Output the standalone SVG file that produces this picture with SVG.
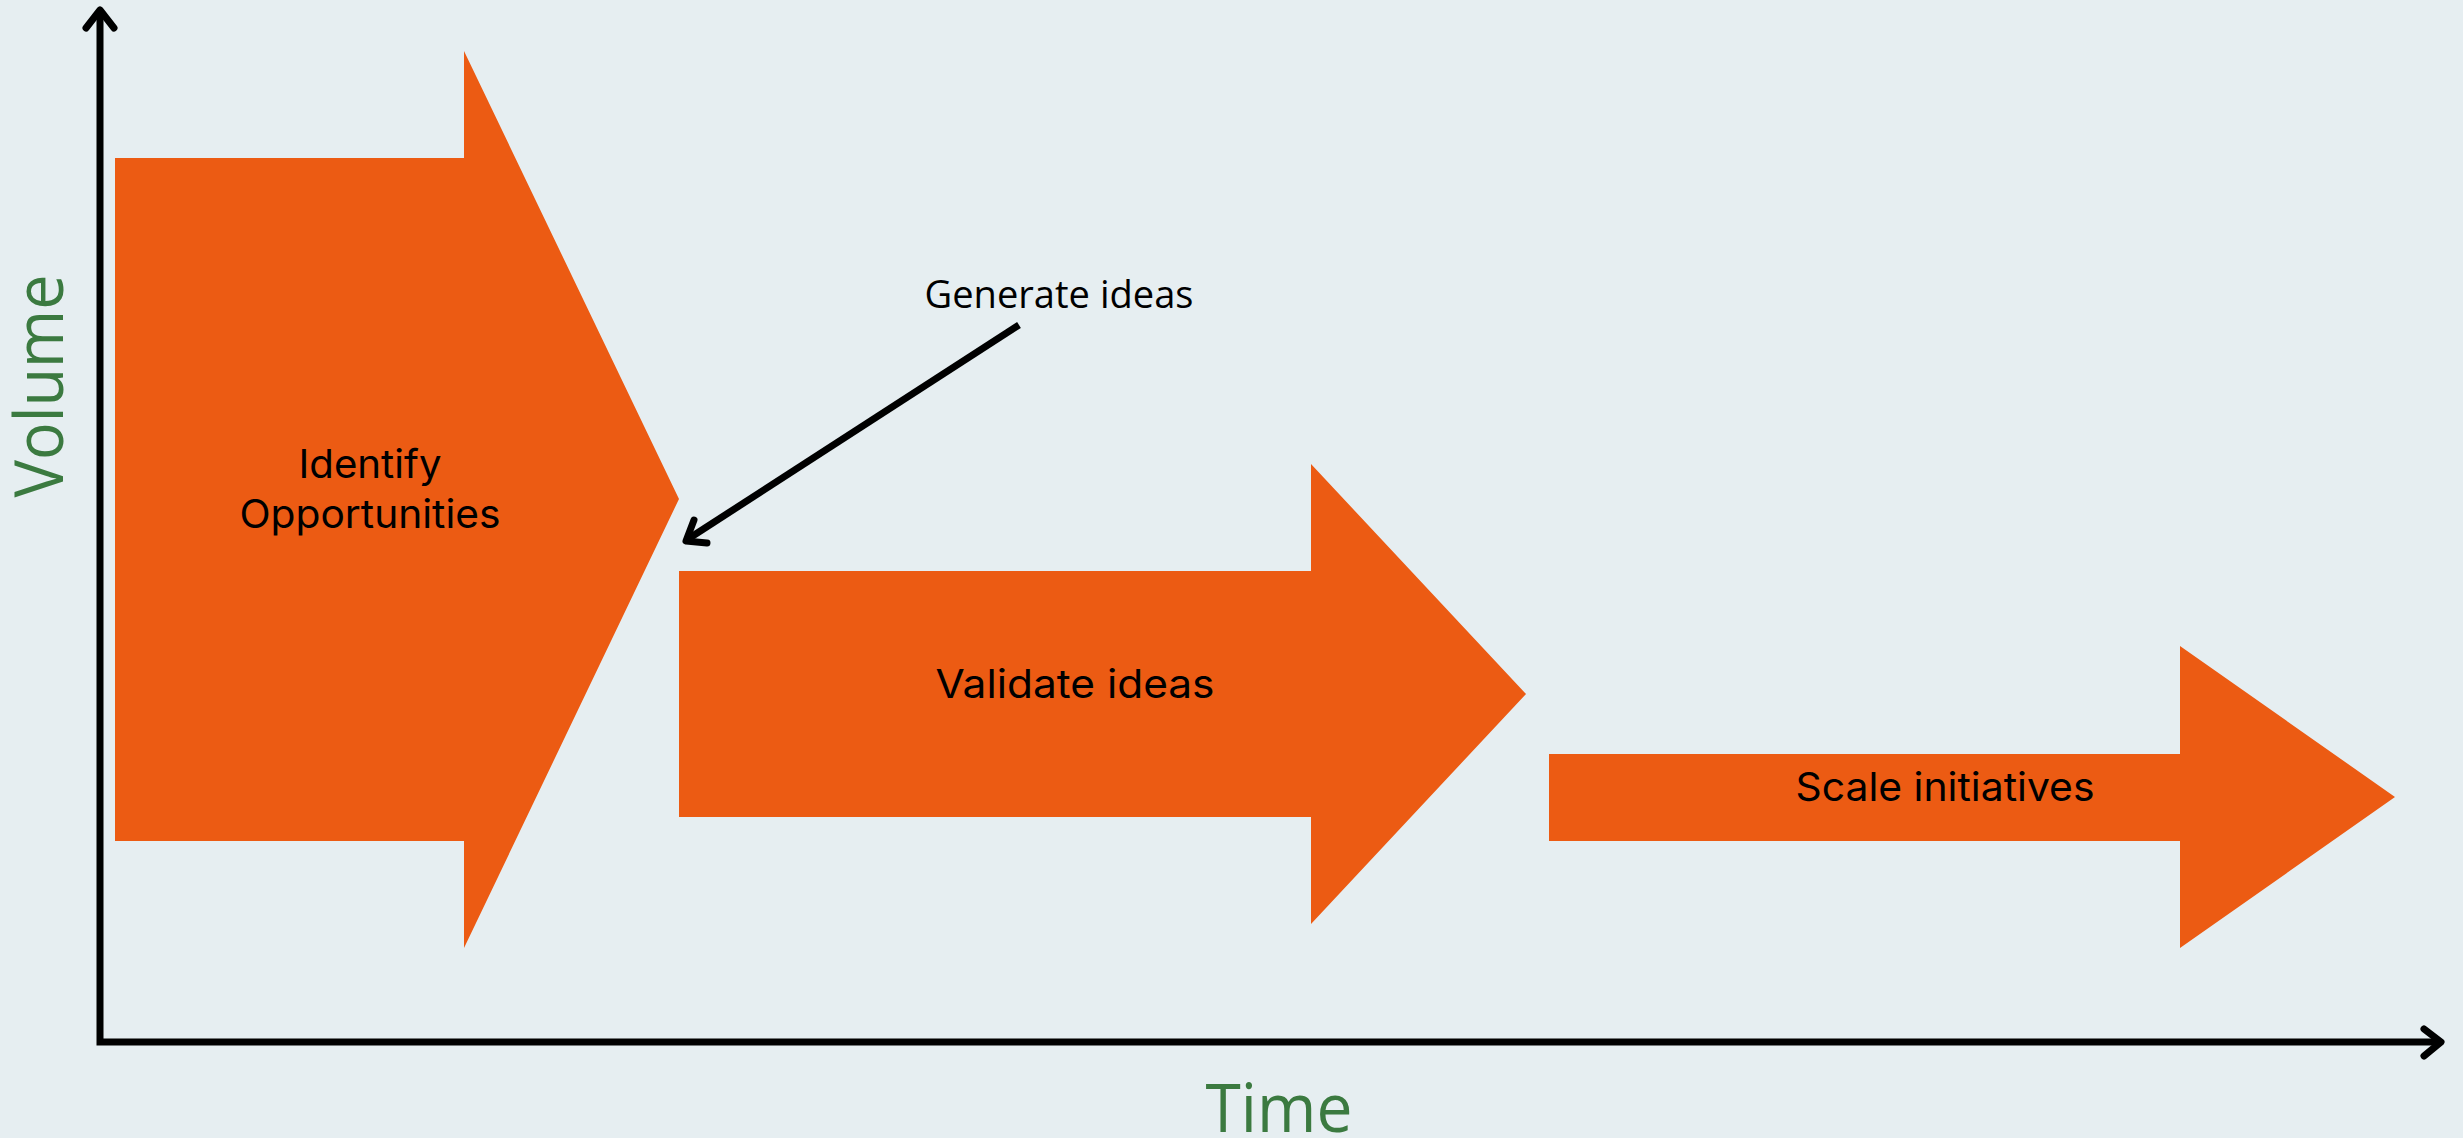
<svg xmlns="http://www.w3.org/2000/svg" width="2463" height="1138" viewBox="0 0 2463 1138">
  <style>
    .stage { fill: #EC5B13; }
    .label { font-family: Inter, "Noto Sans", sans-serif; font-size: 39px; fill: #000; text-anchor: middle; }
    .axis-title { font-family: "Open Sans", "Noto Sans", sans-serif; font-size: 68px; fill: #3B7A40; text-anchor: middle; }
    .note { font-family: "Open Sans", "Noto Sans", sans-serif; font-size: 39px; fill: #000; text-anchor: middle; }
    .axis { fill: none; stroke: #000; stroke-width: 7; }
    .head { fill: none; stroke: #000; stroke-width: 7; stroke-linecap: round; stroke-linejoin: round; }
  </style>

  <rect width="2463" height="1138" fill="#E6EEF1"/>

  <!-- stage arrows -->
  <g id="identify-opportunities">
    <polygon class="stage" points="115,158 464,158 464,51 679,499 464,948 464,841 115,841"/>
    <text class="label" x="370" y="478" textLength="143" lengthAdjust="spacingAndGlyphs">Identify</text>
    <text class="label" x="370" y="528" textLength="261" lengthAdjust="spacingAndGlyphs">Opportunities</text>
  </g>

  <g id="validate-ideas">
    <polygon class="stage" points="679,571 1311,571 1311,464 1526,694 1311,924 1311,817 679,817"/>
    <text class="label" x="1075" y="698" textLength="279" lengthAdjust="spacingAndGlyphs">Validate ideas</text>
  </g>

  <g id="scale-initiatives">
    <polygon class="stage" points="1549,754 2180,754 2180,646 2395,797 2180,948 2180,841 1549,841"/>
    <text class="label" x="1945" y="801" textLength="299" lengthAdjust="spacingAndGlyphs">Scale initiatives</text>
  </g>

  <!-- callout -->
  <g id="generate-ideas">
    <text class="note" x="1059" y="308" textLength="269" lengthAdjust="spacingAndGlyphs">Generate ideas</text>
  </g>

  <!-- axes and callout pointer -->
  <g id="connectors">
    <path class="axis" d="M100,12 V1042 H2439"/>
    <polyline class="head" points="86,28 100,10 114,28"/>
    <polyline class="head" points="2424,1029 2441,1042 2424,1056"/>
    <line x1="1019" y1="325" x2="688" y2="539" stroke="#000" stroke-width="7"/>
    <polyline class="head" points="694,520 686,541 707,543"/>
  </g>

  <g id="axis-labels">
    <text class="axis-title" x="1279" y="1132" textLength="147" lengthAdjust="spacingAndGlyphs">Time</text>
    <text class="axis-title" transform="translate(63,386) rotate(-90)" x="0" y="0" textLength="223" lengthAdjust="spacingAndGlyphs">Volume</text>
  </g>
</svg>
